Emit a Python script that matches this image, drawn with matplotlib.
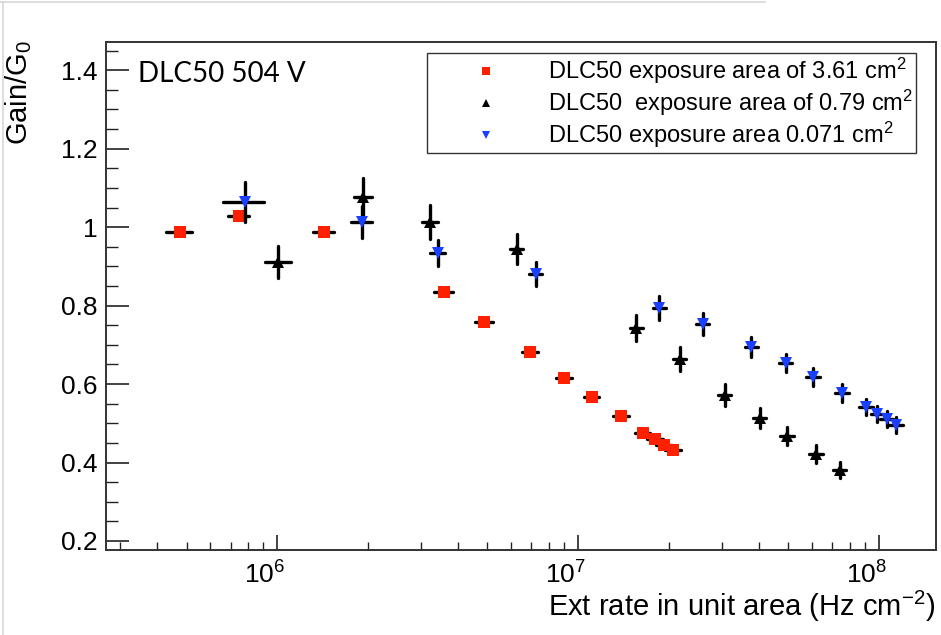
import matplotlib
matplotlib.use("Agg")
import matplotlib.pyplot as plt
import matplotlib.ticker as mticker
import matplotlib.transforms as mtrans
from matplotlib.lines import Line2D
import numpy as np

# ---------------- data ----------------
red_x = [4.75e5, 7.46e5, 1.43e6, 3.58e6, 4.87e6, 6.92e6, 8.98e6, 1.11e7, 1.39e7,
         1.64e7, 1.80e7, 1.93e7, 2.07e7]
red_y = [0.987, 1.028, 0.987, 0.834, 0.758, 0.682, 0.615, 0.567, 0.518,
         0.475, 0.460, 0.445, 0.432]
red_yerr = [0.008] * 13
red_xerr_frac = [0.10, 0.08, 0.08, 0.07, 0.07, 0.06, 0.06, 0.06, 0.06,
                 0.06, 0.06, 0.06, 0.06]

black_x = [1.01e6, 1.93e6, 3.22e6, 6.26e6, 1.56e7, 2.18e7, 3.07e7, 4.02e7,
           4.95e7, 6.18e7, 7.42e7]
black_y = [0.911, 1.076, 1.013, 0.944, 0.743, 0.664, 0.572, 0.513,
           0.468, 0.422, 0.381]
black_yerr = [0.04, 0.05, 0.043, 0.038, 0.033, 0.03, 0.027, 0.025,
              0.023, 0.022, 0.02]
black_xerr_frac = [0.10, 0.07, 0.06, 0.05, 0.05, 0.05, 0.05, 0.05,
                   0.05, 0.05, 0.05]

blue_x = [7.82e5, 1.91e6, 3.42e6, 7.25e6, 1.86e7, 2.60e7, 3.76e7, 4.91e7,
          6.04e7, 7.54e7, 9.06e7, 9.86e7, 1.06e8, 1.14e8]
blue_y = [1.064, 1.013, 0.934, 0.880, 0.794, 0.753, 0.694, 0.653,
          0.618, 0.577, 0.541, 0.524, 0.511, 0.496]
blue_yerr = [0.05, 0.04, 0.032, 0.03, 0.03, 0.028, 0.025, 0.023,
             0.022, 0.022, 0.02, 0.02, 0.02, 0.02]
blue_xerr_frac = [0.155, 0.08, 0.06, 0.05, 0.05, 0.05, 0.05, 0.05,
                  0.05, 0.05, 0.05, 0.05, 0.05, 0.05]

labels = ["DLC50 exposure area of 3.61 cm$^{2}$",
          "DLC50  exposure area of 0.79 cm$^{2}$",
          "DLC50 exposure area 0.071 cm$^{2}$"]
y_ticks = [0.2, 0.4, 0.6, 0.8, 1.0, 1.2, 1.4]
annotation = "DLC50 504 V"

# ---------------- fonts ----------------
FONT = "Liberation Sans"
plt.rcParams["font.family"] = [FONT, "DejaVu Sans"]
plt.rcParams["mathtext.fontset"] = "custom"
plt.rcParams["mathtext.rm"] = FONT
plt.rcParams["mathtext.it"] = FONT
plt.rcParams["mathtext.bf"] = FONT
plt.rcParams["mathtext.default"] = "rm"

W, H = 941, 635
fig = plt.figure(figsize=(W / 100, H / 100), dpi=100)
ax = fig.add_axes([106 / W, 1 - 550 / H, (936 - 106) / W, (550 - 42) / H])

RED = "#ff2000"
BLUE = "#1a40ff"


def draw(x, y, yerr, xfrac, marker, color, ms, z):
    x = np.array(x)
    xe = np.array(xfrac) * x
    c = ax.errorbar(x, y, xerr=xe, yerr=yerr, fmt="none", ecolor="black",
                    elinewidth=2.4, capsize=0, zorder=z)
    for lc in c[2]:
        lc.set_capstyle("round")
    ax.plot(x, y, linestyle="none", marker=marker, color=color,
            markersize=ms, markeredgewidth=0, zorder=z + 0.5)


draw(red_x, red_y, red_yerr, red_xerr_frac, "s", RED, 8.2, 2)
draw(black_x, black_y, black_yerr, black_xerr_frac, "^", "black", 8.2, 3)
draw(blue_x, blue_y, blue_yerr, blue_xerr_frac, "v", BLUE, 8.2, 4)

ax.set_xscale("log")
ax.set_xlim(2.70e5, 1.546e8)
ax.set_ylim(0.177, 1.472)

ax.xaxis.set_major_locator(mticker.LogLocator(base=10, numticks=10))
ax.xaxis.set_minor_locator(mticker.LogLocator(base=10, subs=np.arange(2, 10), numticks=20))
ax.xaxis.set_minor_formatter(mticker.NullFormatter())
ax.xaxis.set_major_formatter(mticker.FuncFormatter(
    lambda v, p: r"$10^{%d}$" % int(round(np.log10(v)))))
ax.set_yticks(y_ticks)
ax.yaxis.set_minor_locator(mticker.MultipleLocator(0.05))
ax.yaxis.set_major_formatter(mticker.FuncFormatter(lambda v, p: "%g" % v))

ax.tick_params(axis="y", which="major", direction="in", length=16.5, width=1.2,
               labelsize=19, pad=6, colors="#222222", labelcolor="black")
ax.tick_params(axis="y", which="minor", direction="in", length=8.5, width=1.0,
               colors="#222222")
ax.tick_params(axis="x", which="major", direction="in", length=11, width=1.2,
               labelsize=19, pad=8, colors="#222222", labelcolor="black")
ax.tick_params(axis="x", which="minor", direction="in", length=6, width=1.0,
               colors="#222222")
ax.tick_params(top=False, right=False)

offset = mtrans.ScaledTranslation(-13 / 100, 0, fig.dpi_scale_trans)
for lab in ax.get_xticklabels():
    lab.set_transform(lab.get_transform() + offset)

for s in ax.spines.values():
    s.set_linewidth(1.4)
    s.set_color("#333333")

# annotation
fig.text(138 / W, 1 - 82 / H, annotation,
         fontsize=20, family=["Lato", "DejaVu Sans"], ha="left", va="baseline")

# axis titles
fig.text(19 / W, 1 - 40 / H, r"Gain/G$_{0}$", rotation=90, ha="center", va="top",
         fontsize=21)
fig.text(935 / W, 1 - 616 / H, r"Ext rate in unit area (Hz cm$^{-2}$)",
         ha="right", va="baseline", fontsize=21)

# legend
handles = [Line2D([], [], linestyle="none", marker="s", color=RED, markersize=6, markeredgewidth=0),
           Line2D([], [], linestyle="none", marker="^", color="black", markersize=6, markeredgewidth=0),
           Line2D([], [], linestyle="none", marker="v", color=BLUE, markersize=6, markeredgewidth=0)]
leg = fig.legend(handles, labels, loc="upper left",
                 bbox_to_anchor=(427 / W, 1 - 53 / H),
                 prop={"family": ["Liberation Sans", "DejaVu Sans"], "size": 17},
                 frameon=True, fancybox=False, edgecolor="black",
                 handlelength=4.77, handletextpad=0.24, borderpad=0.12,
                 labelspacing=0.08, borderaxespad=0)
leg.get_frame().set_linewidth(1.0)

# light page border
fig.add_artist(Line2D([0, 765 / W], [1 - 2 / H, 1 - 2 / H], color="#d8d8d8", lw=1.2,
                      transform=fig.transFigure))
fig.add_artist(Line2D([3 / W, 3 / W], [0, 1 - 2 / H], color="#d8d8d8", lw=1.2,
                      transform=fig.transFigure))

fig.savefig("out.png", dpi=100)
